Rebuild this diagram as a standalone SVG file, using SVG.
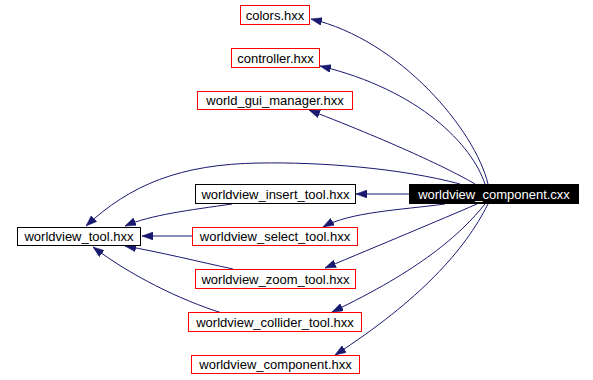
<svg xmlns="http://www.w3.org/2000/svg" width="593" height="380" viewBox="0 0 593 380">
<style>
.box{fill:#ffffff;stroke:#000000;stroke-width:1}
.red{fill:#ffffff;stroke:#ff0000;stroke-width:1}
.blk{fill:#000000;stroke:#000000;stroke-width:1}
text{font-family:"Liberation Sans",Arial,sans-serif;font-size:13px;text-anchor:middle;fill:#000000}
.wt{fill:#ffffff}
.e{fill:none;stroke:#191970;stroke-width:1}
</style>
<defs>
<marker id="ah" markerUnits="userSpaceOnUse" markerWidth="11" markerHeight="8" refX="11" refY="4" orient="auto">
<path d="M0,0 L11,4 L0,8 z" fill="#191970" stroke="#191970" stroke-width="0.5"/>
</marker>
</defs>
<rect width="593" height="380" fill="#ffffff"/>
<g id="edges">
<path class="e" marker-end="url(#ah)" d="M488,184 C475,130 400,40 311,19"/>
<path class="e" marker-end="url(#ah)" d="M485,184 C472,145 420,90 320,66"/>
<path class="e" marker-end="url(#ah)" d="M475,184 C455,172 400,145 309,110"/>
<path class="e" marker-end="url(#ah)" d="M460,184 C400,168 320,162 260,163 C180,164 130,185 86,226"/>
<path class="e" marker-end="url(#ah)" d="M409,194 L356,194"/>
<path class="e" marker-end="url(#ah)" d="M445,204 C400,210 350,212 323,227"/>
<path class="e" marker-end="url(#ah)" d="M477,204 C440,220 380,245 325,268"/>
<path class="e" marker-end="url(#ah)" d="M485,204 C460,235 420,270 332,312"/>
<path class="e" marker-end="url(#ah)" d="M488,204 C465,250 420,300 335,355"/>
<path class="e" marker-end="url(#ah)" d="M232,204 C190,210 150,215 125,226"/>
<path class="e" marker-end="url(#ah)" d="M192,236 L142,236"/>
<path class="e" marker-end="url(#ah)" d="M233,269 C200,262 160,252 125,246"/>
<path class="e" marker-end="url(#ah)" d="M222,313 C180,300 130,275 93,247"/>
</g>
<g id="colors_hxx"><rect class="red" x="240.5" y="5.5" width="69" height="19"/><text x="275" y="19.5">colors.hxx</text></g>
<g id="controller_hxx"><rect class="red" x="231.5" y="48.5" width="88" height="19"/><text x="275.5" y="62.5">controller.hxx</text></g>
<g id="world_gui_manager_hxx"><rect class="red" x="197.5" y="91.5" width="155" height="18"/><text x="275" y="105">world_gui_manager.hxx</text></g>
<g id="worldview_insert_tool_hxx"><rect class="box" x="195.5" y="184.5" width="160" height="19"/><text x="275.5" y="198.5">worldview_insert_tool.hxx</text></g>
<g id="worldview_component_cxx"><rect class="blk" x="409.5" y="184.5" width="169" height="19"/><text class="wt" x="494" y="198.5">worldview_component.cxx</text></g>
<g id="worldview_tool_hxx"><rect class="box" x="17.5" y="227.5" width="123" height="18"/><text x="79" y="241">worldview_tool.hxx</text></g>
<g id="worldview_select_tool_hxx"><rect class="red" x="192.5" y="227.5" width="165" height="18"/><text x="275" y="241">worldview_select_tool.hxx</text></g>
<g id="worldview_zoom_tool_hxx"><rect class="red" x="195.5" y="269.5" width="160" height="19"/><text x="275.5" y="283.5">worldview_zoom_tool.hxx</text></g>
<g id="worldview_collider_tool_hxx"><rect class="red" x="188.5" y="312.5" width="173" height="19"/><text x="275" y="326.5">worldview_collider_tool.hxx</text></g>
<g id="worldview_component_hxx"><rect class="red" x="191.5" y="355.5" width="168" height="18"/><text x="275.5" y="369">worldview_component.hxx</text></g>
</svg>
